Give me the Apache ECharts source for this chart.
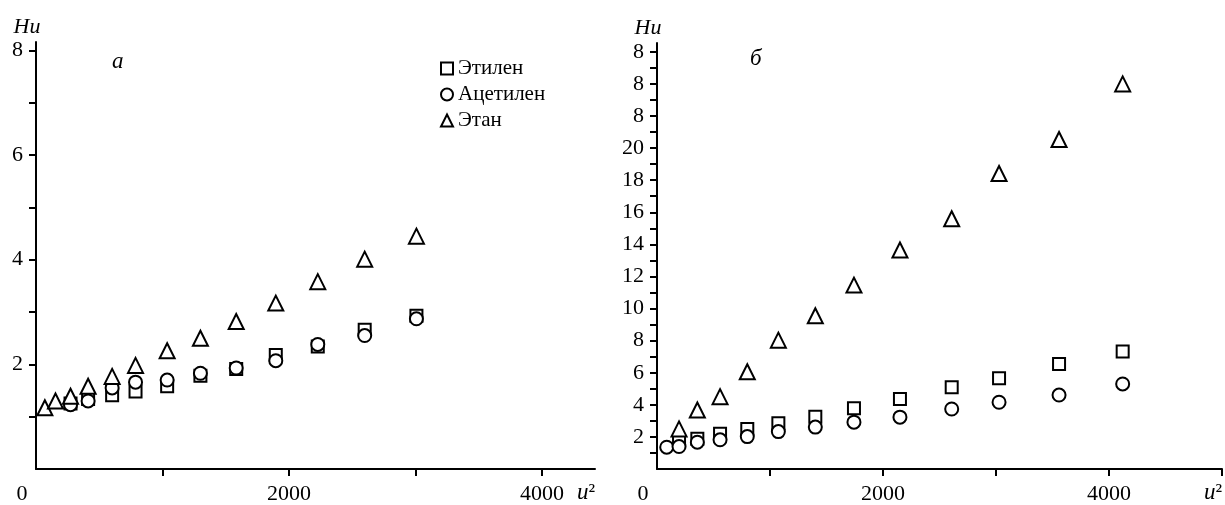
<!DOCTYPE html>
<html>
<head>
<meta charset="utf-8">
<script src="https://cdn.jsdelivr.net/npm/echarts@6/dist/echarts.min.js"></script>
<style>
html,body{margin:0;padding:0;background:#fff;}
#chart{width:1225px;height:505px;}
</style>
</head>
<body>
<div id="chart"></div>
<script>
// ---- Data: panel а ----
const xA = [70,154,273,412,602,787,1037,1300,1583,1896,2228,2599,3008];
const ethaneA    = [1.17,1.30,1.39,1.58,1.77,1.98,2.26,2.50,2.82,3.17,3.58,4.01,4.45];
const ethyleneA  = [null,null,1.25,1.34,1.41,1.48,1.58,1.78,1.91,2.18,2.34,2.66,2.93];
const acetyleneA = [null,null,1.23,1.30,1.55,1.66,1.70,1.83,1.93,2.07,2.38,2.55,2.87];
// ---- Data: panel б ----
const xB = [86,195,357,558,799,1074,1401,1743,2150,2608,3027,3558,4121];
const ethaneB    = [null,2.50,3.68,4.51,6.06,8.03,9.55,11.46,13.65,15.60,18.42,20.54,24.0];
const ethyleneB  = [null,1.71,1.88,2.19,2.50,2.85,3.26,3.79,4.37,5.09,5.65,6.54,7.33];
const acetyleneB = [1.36,1.40,1.67,1.82,2.02,2.33,2.61,2.92,3.23,3.74,4.16,4.61,5.30];

// ---- Names and tick labels ----
const seriesNames = ['Этилен','Ацетилен','Этан'];
const panelLabels = ['а','б'];
const yNameText = 'Hu';
const xLabelValuesA = [0,2000,4000];
const xTickValuesA = [1000,2000,3000,4000];
const yLabelValuesA = [2,4,6,8];
const yLabelTextsA = ['2','4','6','8'];
const yTickValuesA = [1,2,3,4,5,6,7,8];
const xLabelValuesB = [0,2000,4000];
const xTickValuesB = [1000,2000,3000,4000,5000];
const yLabelValuesB = [2,4,6,8,10,12,14,16,18,20,22,24,26];
const yLabelTextsB = ['2','4','6','8','10','12','14','16','18','20','8','8','8'];
const yTickValuesB = [1,2,3,4,5,6,7,8,9,10,11,12,13,14,15,16,17,18,19,20,21,22,23,24,25,26];

const FONT = '"Liberation Serif", "DejaVu Serif", serif';
const pair = (xs, ys) => xs.map((x, i) => ys[i] == null ? null : [x, ys[i]]).filter(d => d);

function xAxisDef(gridIndex, max, labelVals, tickVals) {
  return {
    type: 'value', gridIndex, min: 0, max,
    name: '{i|u}{s|²}', nameLocation: 'end', nameGap: 0,
    nameTextStyle: {
      align: 'right', verticalAlign: 'top', padding: [12, 0, 0, 0],
      rich: {
        i: {fontFamily: FONT, fontStyle: 'italic', fontSize: 23, color: '#000'},
        s: {fontFamily: FONT, fontSize: 22, color: '#000'}
      }
    },
    splitLine: {show: false},
    axisLine: {show: true, onZero: false, lineStyle: {color: '#000', width: 2}},
    axisTick: {show: true, inside: false, length: 7, customValues: tickVals, lineStyle: {color: '#000', width: 2}},
    axisLabel: {
      customValues: labelVals, margin: 14, color: '#000', fontFamily: FONT, fontSize: 22,
      formatter: v => v === 0 ? '{z|0}' : String(v),
      rich: {z: {fontFamily: FONT, fontSize: 22, color: '#000', padding: [0, 28, 0, 0]}}
    }
  };
}
function yAxisDef(gridIndex, max, labelVals, labelTexts, tickVals) {
  return {
    type: 'value', gridIndex, min: 0, max,
    name: yNameText, nameLocation: 'end', nameGap: 15,
    nameTextStyle: {fontFamily: FONT, fontStyle: 'italic', fontSize: 22, color: '#000',
      align: 'center', verticalAlign: 'middle', padding: [0, 18, 0, 0]},
    splitLine: {show: false},
    axisLine: {show: true, onZero: false, lineStyle: {color: '#000', width: 2}},
    axisTick: {show: true, inside: false, length: 7, customValues: tickVals, lineStyle: {color: '#000', width: 2}},
    axisLabel: {
      customValues: labelVals, margin: 13, color: '#000', fontFamily: FONT, fontSize: 22,
      formatter: v => { const i = labelVals.indexOf(v); return i >= 0 ? labelTexts[i] : ''; }
    }
  };
}
const styleOf = {
  'Этилен':   {symbol: 'rect', symbolSize: 12},
  'Ацетилен': {symbol: 'circle', symbolSize: 13},
  'Этан':     {symbol: 'triangle', symbolSize: 15}
};
function sc(name, idx, data) {
  return {
    type: 'scatter', name, xAxisIndex: idx, yAxisIndex: idx, data,
    symbol: styleOf[name].symbol, symbolSize: styleOf[name].symbolSize,
    itemStyle: {color: '#fff', borderColor: '#000', borderWidth: 2, opacity: 1},
    emphasis: {disabled: true}, z: 3
  };
}

const option = {
  backgroundColor: '#fff',
  animation: false,
  title: [
    {text: panelLabels[0], left: 112, top: 50, padding: 0, textStyle: {fontFamily: FONT, fontStyle: 'italic', fontWeight: 'normal', fontSize: 23, color: '#000'}},
    {text: panelLabels[1], left: 750, top: 47, padding: 0, textStyle: {fontFamily: FONT, fontStyle: 'italic', fontWeight: 'normal', fontSize: 23, color: '#000'}}
  ],
  legend: {
    data: seriesNames, orient: 'vertical', left: 440, top: 58, padding: 0,
    itemWidth: 12, itemHeight: 12, itemGap: 5,
    textStyle: {fontFamily: FONT, fontSize: 21, color: '#000'},
    selectedMode: false
  },
  grid: [
    {left: 36, top: 42, width: 559, bottom: 35, containLabel: false},
    {left: 657, top: 43, width: 566, bottom: 35, containLabel: false}
  ],
  xAxis: [
    xAxisDef(0, 4420, xLabelValuesA, xTickValuesA),
    xAxisDef(1, 5000, xLabelValuesB, xTickValuesB)
  ],
  yAxis: [
    yAxisDef(0, 8.16, yLabelValuesA, yLabelTextsA, yTickValuesA),
    yAxisDef(1, 26.55, yLabelValuesB, yLabelTextsB, yTickValuesB)
  ],
  series: [
    sc('Этилен', 0, pair(xA, ethyleneA)),
    sc('Ацетилен', 0, pair(xA, acetyleneA)),
    sc('Этан', 0, pair(xA, ethaneA)),
    sc('Этилен', 1, pair(xB, ethyleneB)),
    sc('Ацетилен', 1, pair(xB, acetyleneB)),
    sc('Этан', 1, pair(xB, ethaneB))
  ]
};
const chart = echarts.init(document.getElementById('chart'), null, {renderer: 'canvas'});
chart.setOption(option);
</script>
</body>
</html>
